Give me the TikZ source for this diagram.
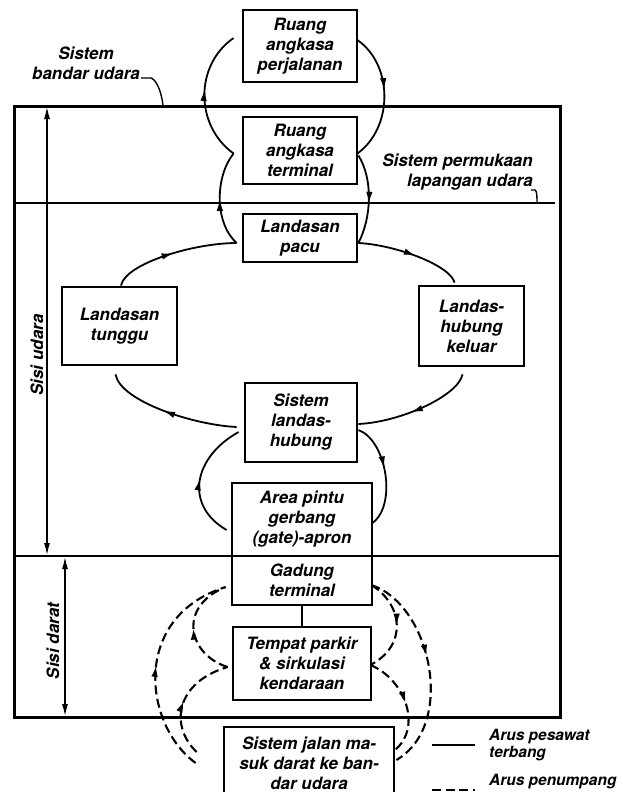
\documentclass[tikz,border=0pt]{standalone}
\usepackage{fontspec}
\setmainfont{TeX Gyre Heros}
\usetikzlibrary{arrows.meta,positioning,decorations.markings}

\begin{document}
\begin{tikzpicture}[
    x=1pt, y=-1pt,
    font=\bfseries\itshape\fontsize{17}{20}\selectfont,
    blok/.style={
		rectangle,
		draw=black,
		line width=2.8pt,
		align=center,
		inner sep=2pt,
		fill=white
	},
	ket/.style={
		align=center,
		inner sep=0pt
	},
	alur/.style={line width=1.8pt},
	penumpang/.style={line width=2.1pt, dash pattern=on 9pt off 4.5pt},
	panahtengah/.style={
		postaction={decorate},
		decoration={markings, mark=at position #1 with {\arrow{Latex[length=12pt,width=6.5pt]}}}
	},
	panahtengah/.default=0.5
  ]
  \useasboundingbox (0,0) rectangle (623,792);

  % batas sistem
  \draw[line width=3pt] (14,106) rectangle (560,717);
  \draw[line width=2.6pt] (14,203) -- (555,203);
  \draw[line width=2.6pt] (14,556) -- (560,556);

  \coordinate (udaraA) at (47,106);
  \coordinate (udaraB) at (47,556);
  \coordinate (daratA) at (65,556);
  \coordinate (daratB) at (65,717);
  \draw[alur, {Latex[length=13pt,width=6pt]}-{Latex[length=13pt,width=6pt]}] (udaraA) -- (udaraB);
  \draw[alur, {Latex[length=13pt,width=6pt]}-{Latex[length=13pt,width=6pt]}] (daratA) -- (daratB);
  \node[ket, rotate=90] (sisiudara) at (37,355) {Sisi udara};
  \node[ket, rotate=90] (sisidarat) at (53,641) {Sisi darat};

  % blok-blok
  \node[blok, minimum width=114pt, minimum height=72pt] (ruangjln) at (300,46) {Ruang\\angkasa\\perjalanan};
  \node[blok, minimum width=114pt, minimum height=67pt] (ruangtrm) at (300,150.5) {Ruang\\angkasa\\terminal};
  \node[blok, minimum width=114pt, minimum height=48pt] (pacu) at (300,238) {Landasan\\pacu};
  \node[blok, minimum width=115pt, minimum height=78pt] (tunggu) at (119.5,326) {Landasan\\tunggu};
  \node[blok, minimum width=105pt, minimum height=80pt] (keluar) at (471.5,326) {Landas-\\hubung\\keluar};
  \node[blok, minimum width=112pt, minimum height=79pt] (lhubung) at (301,422.5) {Sistem\\landas-\\hubung};
  \node[blok, minimum width=140pt, minimum height=73pt] (apron) at (302,519.5) {Area pintu\\gerbang\\(gate)-apron};
  \node[blok, minimum width=140pt, minimum height=49pt, below=-2.8pt of apron] (gedung) {Gadung\\terminal};
  \node[blok, minimum width=138pt, minimum height=73pt] (parkir) at (302,663.5) {Tempat parkir\\\& sirkulasi\\kendaraan};
  \node[blok, minimum width=170pt, minimum height=73pt] (jalan) at (309,763.5) {Sistem jalan ma-\\suk darat ke ban-\\dar udara};

  \draw[line width=1.8pt] (gedung) -- (parkir);

  % arus pesawat terbang
  \draw[alur, panahtengah=0.55] ([shift={(-8,3)}]ruangtrm.west) .. controls +(-39,-28) and +(-39,27) .. ([shift={(-8,-8)}]ruangjln.west);
  \draw[alur, panahtengah] ([shift={(-5,5)}]pacu.west) .. controls +(-23,-21) and +(-18,22) .. ([shift={(-8,3)}]ruangtrm.west);
  \draw[alur, panahtengah=0.45] ([shift={(-1,-6)}]ruangjln.east) .. controls +(36,25) and +(36,-26) .. ([shift={(-1,3)}]ruangtrm.east);
  \draw[alur, panahtengah=0.55] ([shift={(0,5)}]ruangtrm.east) .. controls +(15,24) and +(13,-25) .. ([shift={(0,5)}]pacu.east);

  \draw[alur, panahtengah=0.55] ([shift={(0,5)}]pacu.east) .. controls +(38,2) and +(-4,-17) .. ([shift={(-17,-2)}]keluar.north);
  \draw[alur, panahtengah=0.55] ([shift={(-9,7)}]keluar.south) .. controls +(-4,21) and +(43,-2) .. ([shift={(0,1.5)}]lhubung.east);
  \draw[alur, panahtengah=0.55] ([shift={(-7,4.5)}]lhubung.west) .. controls +(-43,-2) and +(5,27) .. ([shift={(-4,8)}]tunggu.south);
  \draw[alur, panahtengah=0.5] ([shift={(1.5,0)}]tunggu.north) .. controls +(4,-22) and +(-43,0) .. ([shift={(-5,5)}]pacu.west);

  \draw[alur, panahtengah=0.45] ([shift={(0,7.5)}]lhubung.east) .. controls +(28,10) and +(25,-18) .. ([shift={(-1,3.5)}]apron.east);
  \draw[alur, panahtengah=0.5] ([shift={(-4,10.5)}]apron.west) .. controls +(-43,-25) and +(-45,25) .. ([shift={(-5,9.5)}]lhubung.west);

  % arus penumpang
  \draw[penumpang, panahtengah=0.5] ([shift={(-27,-0.5)}]jalan.west) .. controls +(-52,-38) and +(-95,30) .. ([shift={(-5,6.5)}]gedung.west);
  \draw[penumpang, panahtengah=0.5] ([shift={(-4,3.5)}]parkir.west) .. controls +(-39,-12) and +(-49,20) .. ([shift={(-5,6.5)}]gedung.west);
  \draw[penumpang, panahtengah=0.5] ([shift={(-26,-11.5)}]jalan.west) .. controls +(-28,-27) and +(-51,15) .. ([shift={(-4,3.5)}]parkir.west);

  \draw[penumpang, panahtengah=0.45] ([shift={(-2,4.5)}]gedung.east) .. controls +(60,20) and +(60,-35) .. ([shift={(1,-3.5)}]jalan.east);
  \draw[penumpang, panahtengah=0.5] ([shift={(-2,4.5)}]gedung.east) .. controls +(31,19) and +(38,-20) .. ([shift={(-2,1.5)}]parkir.east);
  \draw[penumpang, panahtengah=0.5] ([shift={(-2,1.5)}]parkir.east) .. controls +(36,15) and +(31,-22) .. ([shift={(-3,-11.5)}]jalan.east);

  % keterangan sistem
  \node[ket] (sbu) at (86,63) {Sistem\\bandar udara};
  \coordinate (sbuujung) at (163,106);
  \draw[line width=1.4pt] ([shift={(1,15)}]sbu.east) -- ++(10,0) .. controls +(6,2) and +(-1,-12) .. (sbuujung);

  \node[ket, align=right, anchor=east] (spl) at (533,172) {Sistem permukaan\\lapangan udara};
  \coordinate (splujung) at (537,203);
  \draw[line width=1.4pt] ([shift={(-2,18)}]spl.east) -- ++(4,0) .. controls +(2,1) and +(0,-6) .. (splujung);

  % legenda
  \node[ket, anchor=west, align=left, font=\bfseries\itshape\fontsize{15.5}{17}\selectfont] (lgpesawat) at (489,745) {Arus pesawat\\terbang};
  \node[ket, anchor=west, font=\bfseries\itshape\fontsize{15.5}{17}\selectfont] (lgpenumpang) at (489,782) {Arus penumpang};
  \draw[alur] ([xshift=-57pt]lgpesawat.west) -- ([xshift=-14pt]lgpesawat.west);
  \draw[penumpang] ([shift={(-57,8)}]lgpenumpang.west) -- ([shift={(-14,8)}]lgpenumpang.west);

\end{tikzpicture}
\end{document}
